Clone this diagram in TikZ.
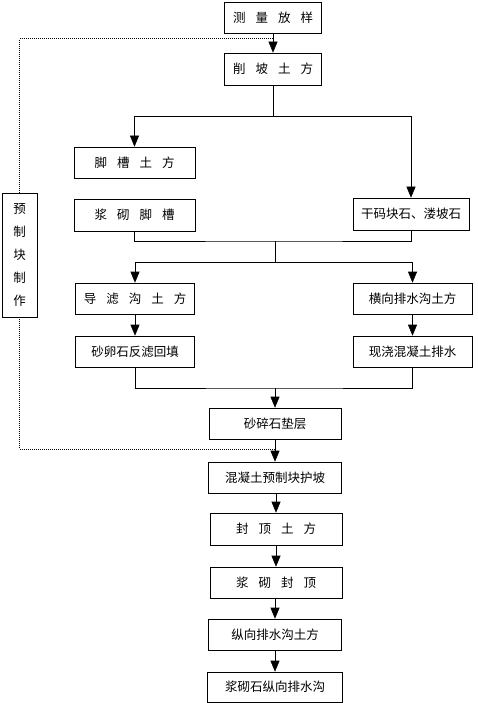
\documentclass[tikz,border=0pt]{standalone}
\usepackage{fontspec}
\setmainfont{Noto Sans CJK SC}
\usetikzlibrary{arrows.meta}
\tikzset{
  stepbox/.style={draw, line width=0.6pt, inner sep=0pt, minimum height=31pt,
    font=\fontsize{12.5}{14}\selectfont},
  arr/.style={-{Triangle[length=11pt,width=9pt]}, line width=0.6pt},
  link/.style={line width=0.6pt},
  dotline/.style={densely dotted, line width=1pt}
}
\newcommand{\gp}{\hspace{10pt}}
\begin{document}
\begin{tikzpicture}[x=1pt, y=-1pt]
    \useasboundingbox (0,0) rectangle (478,703);
    % main column, top
    \node[stepbox, minimum width=97pt] (survey) at (273,17.5) {测\gp 量\gp 放\gp 样};
    \node[stepbox, minimum width=97pt, minimum height=32pt] (slope) at (273,69) {削\gp 坡\gp 土\gp 方};
    % left and right branches
    \node[stepbox, minimum width=121pt] (footdig) at (134.5,162.5) {脚\gp 槽\gp 土\gp 方};
    \node[stepbox, minimum width=121pt, minimum height=32pt] (footmas) at (134.5,215) {浆\gp 砌\gp 脚\gp 槽};
    \node[stepbox, minimum width=116pt, minimum height=32pt] (drystone) at (411,214) {干码块石、溇坡石};
    \node[stepbox, minimum width=119pt] (filterdig) at (135,298.5) {导\gp 滤\gp 沟\gp 土\gp 方};
    \node[stepbox, minimum width=119pt] (filterfill) at (135,351.5) {砂卵石反滤回填};
    \node[stepbox, minimum width=119pt] (draindig) at (412.5,298.5) {横向排水沟土方};
    \node[stepbox, minimum width=119pt] (drainpour) at (412.5,351.5) {现浇混凝土排水};
    % main column, bottom
    \node[stepbox, minimum width=132pt] (gravel) at (275,423.5) {砂碎石垫层};
    \node[stepbox, minimum width=133pt] (paving) at (275,477.5) {混凝土预制块护坡};
    \node[stepbox, minimum width=132pt, minimum height=32pt] (capdig) at (276,529) {封\gp 顶\gp 土\gp 方};
    \node[stepbox, minimum width=132pt] (capmas) at (276,582.5) {浆\gp 砌\gp 封\gp 顶};
    \node[stepbox, minimum width=133pt] (ditchdig) at (275,634.5) {纵向排水沟土方};
    \node[stepbox, minimum width=135pt, minimum height=30pt] (ditchmas) at (275,687) {浆砌石纵向排水沟};
    % precast blocks, side track
    \node[stepbox, minimum width=35pt, minimum height=124pt, align=center,
      font=\fontsize{12.5}{23}\selectfont] (prefab) at (19.5,255) {预\\制\\块\\制\\作};
    \coordinate (join1) at (273,39);
    \coordinate (join2) at (275,449);
    \coordinate (s1) at (273,116);
    \coordinate (m1) at (275,241);
    \coordinate (s2) at (275,262);
    \coordinate (m2) at (275,388);
    % connectors
    \draw[arr] (survey) -- (slope);
    \draw[link] (slope) -- (s1);
    \draw[arr] (s1) -| (footdig);
    \draw[arr] (s1) -| (drystone);
    \draw[link] (footmas.south) |- (m1) -| (drystone.south);
    \draw[link] (m1) -- (s2);
    \draw[arr] (s2) -| (filterdig);
    \draw[arr] (s2) -| (draindig);
    \draw[arr] (filterdig) -- (filterfill);
    \draw[arr] (draindig) -- (drainpour);
    \draw[link] (filterfill.south) |- (m2) -| (drainpour.south);
    \draw[arr] (m2) -- (gravel);
    \draw[arr] (gravel) -- (paving);
    \draw[arr] (paving.south -| capdig) -- (capdig);
    \draw[arr] (capdig) -- (capmas);
    \draw[arr] (capmas.south -| ditchdig) -- (ditchdig);
    \draw[arr] (ditchdig) -- (ditchmas);
    % dotted feed of the precast blocks
    \draw[dotline] (prefab.north) |- (join1);
    \draw[dotline] (prefab.south) |- (join2);
\end{tikzpicture}
\end{document}
